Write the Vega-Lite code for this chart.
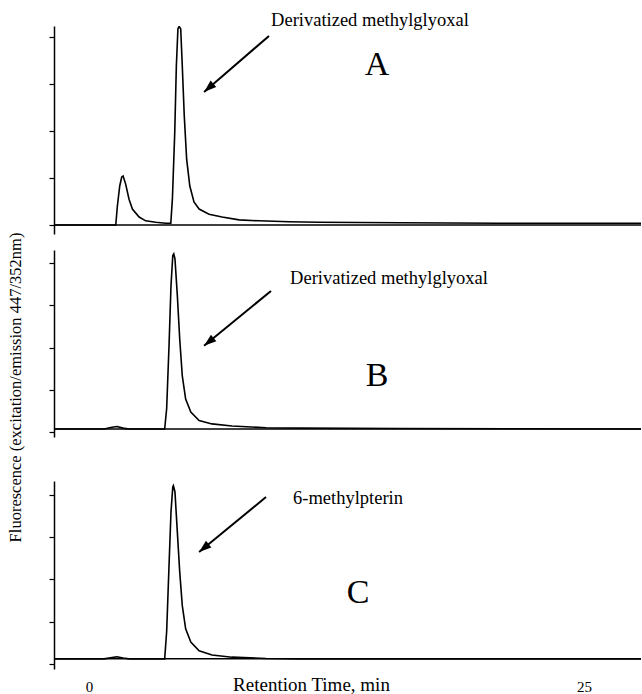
{
  "$schema": "https://vega.github.io/schema/vega-lite/v6.json",
  "background": "white",
  "padding": {"left": 7, "top": 11, "right": 0, "bottom": 0},
  "config": {
    "view": {"stroke": null},
    "axis": {"grid": false, "domainColor": "black", "tickColor": "black", "domainWidth": 1.5, "tickWidth": 1.2, "labelColor": "black", "titleColor": "black", "labelFont": "Liberation Serif", "titleFont": "Liberation Serif", "titleFontWeight": "normal"}
  },
  "datasets": {
    "A": [
      {"t": -1.77, "v": 0}, {"t": 1.35, "v": 0}, {"t": 1.43, "v": 0.4}, {"t": 1.55, "v": 0.83}, {"t": 1.65, "v": 1.02}, {"t": 1.72, "v": 1.04}, {"t": 1.85, "v": 0.87}, {"t": 2.02, "v": 0.55}, {"t": 2.19, "v": 0.34}, {"t": 2.53, "v": 0.17}, {"t": 2.86, "v": 0.09}, {"t": 3.37, "v": 0.06}, {"t": 3.87, "v": 0.04}, {"t": 4.13, "v": 0.04}, {"t": 4.21, "v": 0.55}, {"t": 4.33, "v": 1.98}, {"t": 4.41, "v": 3.38}, {"t": 4.49, "v": 4.17}, {"t": 4.55, "v": 4.22}, {"t": 4.63, "v": 4.17}, {"t": 4.71, "v": 3.38}, {"t": 4.81, "v": 2.32}, {"t": 4.93, "v": 1.4}, {"t": 5.09, "v": 0.83}, {"t": 5.3, "v": 0.49}, {"t": 5.56, "v": 0.34}, {"t": 6.06, "v": 0.23}, {"t": 6.72, "v": 0.17}, {"t": 7.58, "v": 0.11}, {"t": 8.59, "v": 0.09}, {"t": 10.1, "v": 0.07}, {"t": 11.6, "v": 0.06}, {"t": 15.7, "v": 0.05}, {"t": 20.7, "v": 0.04}, {"t": 27.88, "v": 0.04}
    ],
    "B": [
      {"t": -1.77, "v": 0.07}, {"t": 0.76, "v": 0.07}, {"t": 1.16, "v": 0.11}, {"t": 1.41, "v": 0.13}, {"t": 1.72, "v": 0.09}, {"t": 2.02, "v": 0.07}, {"t": 3.82, "v": 0.07}, {"t": 3.92, "v": 0.55}, {"t": 4.04, "v": 2.04}, {"t": 4.14, "v": 3.47}, {"t": 4.23, "v": 4.18}, {"t": 4.28, "v": 4.22}, {"t": 4.34, "v": 4.1}, {"t": 4.46, "v": 3.23}, {"t": 4.58, "v": 2.2}, {"t": 4.71, "v": 1.33}, {"t": 4.88, "v": 0.78}, {"t": 5.14, "v": 0.47}, {"t": 5.56, "v": 0.27}, {"t": 6.21, "v": 0.19}, {"t": 7.22, "v": 0.14}, {"t": 8.94, "v": 0.1}, {"t": 10.6, "v": 0.09}, {"t": 15.7, "v": 0.08}, {"t": 27.88, "v": 0.07}
    ],
    "C": [
      {"t": -1.77, "v": 0.12}, {"t": 0.76, "v": 0.12}, {"t": 1.16, "v": 0.15}, {"t": 1.41, "v": 0.17}, {"t": 1.72, "v": 0.14}, {"t": 2.02, "v": 0.12}, {"t": 3.82, "v": 0.12}, {"t": 3.92, "v": 0.76}, {"t": 4.04, "v": 2.33}, {"t": 4.14, "v": 3.6}, {"t": 4.23, "v": 4.19}, {"t": 4.26, "v": 4.22}, {"t": 4.34, "v": 4.07}, {"t": 4.46, "v": 3.12}, {"t": 4.58, "v": 2.18}, {"t": 4.71, "v": 1.38}, {"t": 4.88, "v": 0.83}, {"t": 5.14, "v": 0.52}, {"t": 5.56, "v": 0.31}, {"t": 6.21, "v": 0.21}, {"t": 7.22, "v": 0.16}, {"t": 8.94, "v": 0.13}, {"t": 10.6, "v": 0.12}, {"t": 27.88, "v": 0.12}
    ],
    "one": [{}]
  },
  "spacing": 16,
  "bounds": "flush",
  "vconcat": [
    {
      "width": 587,
      "height": 208,
      "layer": [
        {
          "data": {"name": "A"},
          "mark": {"type": "line", "color": "black", "strokeWidth": 1.6, "clip": true},
          "encoding": {
            "x": {"field": "t", "type": "quantitative", "scale": {"domain": [-1.77, 27.88], "nice": false, "zero": false}, "axis": null},
            "y": {"field": "v", "type": "quantitative", "scale": {"domain": [-0.19, 4.23], "nice": false, "zero": false}, "axis": {"values": [0, 1, 2, 3, 4], "labels": false, "title": null, "tickSize": 5}}
          }
        },
        {
          "data": {"name": "one"},
          "mark": {"type": "rule", "color": "black", "strokeWidth": 1.5},
          "encoding": {"y": {"datum": 0}}
        },
        {
          "data": {"name": "one"},
          "mark": {"type": "rule", "color": "black", "strokeWidth": 2},
          "encoding": {"x": {"datum": 9.09}, "y": {"datum": 4.02}, "x2": {"datum": 5.81}, "y2": {"datum": 2.83}}
        },
        {
          "data": {"name": "one"},
          "mark": {"type": "point", "shape": "M0,0L0.55,1.6L-0.55,1.6Z", "filled": true, "color": "black", "opacity": 1, "size": 240, "angle": 229},
          "encoding": {"x": {"datum": 5.81}, "y": {"datum": 2.83}}
        },
        {
          "data": {"name": "one"},
          "mark": {"type": "text", "font": "Liberation Serif", "fontSize": 18.5, "align": "center", "baseline": "alphabetic", "color": "black"},
          "encoding": {"x": {"datum": 14.19}, "y": {"datum": 4.23}, "text": {"value": "Derivatized methylglyoxal"}}
        },
        {
          "data": {"name": "one"},
          "mark": {"type": "text", "font": "Liberation Serif", "fontSize": 34, "align": "center", "baseline": "middle", "color": "black"},
          "encoding": {"x": {"datum": 14.55}, "y": {"datum": 3.4}, "text": {"value": "A"}}
        }
      ]
    },
    {
      "width": 587,
      "height": 187,
      "layer": [
        {
          "data": {"name": "B"},
          "mark": {"type": "line", "color": "black", "strokeWidth": 1.6, "clip": true},
          "encoding": {
            "x": {"field": "t", "type": "quantitative", "scale": {"domain": [-1.77, 27.88], "nice": false, "zero": false}, "axis": null},
            "y": {"field": "v", "type": "quantitative", "scale": {"domain": [-0.12, 4.31], "nice": false, "zero": false}, "axis": {"values": [0, 1, 2, 3, 4], "labels": false, "tickSize": 5, "title": "Fluorescence (excitation/emission 447/352nm)", "titleFontSize": 16.5, "titlePadding": 25, "titleY": 137}}
          }
        },
        {
          "data": {"name": "one"},
          "mark": {"type": "rule", "color": "black", "strokeWidth": 1.5},
          "encoding": {"y": {"datum": 0.07}}
        },
        {
          "data": {"name": "one"},
          "mark": {"type": "rule", "color": "black", "strokeWidth": 2},
          "encoding": {"x": {"datum": 9.19}, "y": {"datum": 3.34}, "x2": {"datum": 5.81}, "y2": {"datum": 2.04}}
        },
        {
          "data": {"name": "one"},
          "mark": {"type": "point", "shape": "M0,0L0.55,1.6L-0.55,1.6Z", "filled": true, "color": "black", "opacity": 1, "size": 240, "angle": 230.6},
          "encoding": {"x": {"datum": 5.81}, "y": {"datum": 2.04}}
        },
        {
          "data": {"name": "one"},
          "mark": {"type": "text", "font": "Liberation Serif", "fontSize": 18.5, "align": "center", "baseline": "alphabetic", "color": "black"},
          "encoding": {"x": {"datum": 15.15}, "y": {"datum": 3.51}, "text": {"value": "Derivatized methylglyoxal"}}
        },
        {
          "data": {"name": "one"},
          "mark": {"type": "text", "font": "Liberation Serif", "fontSize": 34, "align": "center", "baseline": "middle", "color": "black"},
          "encoding": {"x": {"datum": 14.55}, "y": {"datum": 1.33}, "text": {"value": "B"}}
        }
      ]
    },
    {
      "width": 587,
      "height": 12,
      "data": {"name": "one"},
      "mark": {"type": "point", "opacity": 0},
      "encoding": {}
    },
    {
      "width": 587,
      "height": 188,
      "layer": [
        {
          "data": {"name": "C"},
          "mark": {"type": "line", "color": "black", "strokeWidth": 1.6, "clip": true},
          "encoding": {
            "x": {"field": "t", "type": "quantitative", "scale": {"domain": [-1.77, 27.88], "nice": false, "zero": false}, "axis": {"values": [0, 25], "domain": false, "ticks": false, "tickSize": 0, "labelPadding": 10, "labelFontSize": 15, "title": "Retention Time, min", "titleFontSize": 19, "titleX": 257, "titleY": 21, "titleBaseline": "alphabetic", "titleAlign": "center"}},
            "y": {"field": "v", "type": "quantitative", "scale": {"domain": [-0.12, 4.33], "nice": false, "zero": false}, "axis": {"values": [0, 1, 2, 3, 4], "labels": false, "title": null, "tickSize": 5}}
          }
        },
        {
          "data": {"name": "one"},
          "mark": {"type": "rule", "color": "black", "strokeWidth": 1.5},
          "encoding": {"y": {"datum": 0.12}}
        },
        {
          "data": {"name": "one"},
          "mark": {"type": "rule", "color": "black", "strokeWidth": 2},
          "encoding": {"x": {"datum": 8.94}, "y": {"datum": 3.95}, "x2": {"datum": 5.56}, "y2": {"datum": 2.65}}
        },
        {
          "data": {"name": "one"},
          "mark": {"type": "point", "shape": "M0,0L0.55,1.6L-0.55,1.6Z", "filled": true, "color": "black", "opacity": 1, "size": 240, "angle": 230.6},
          "encoding": {"x": {"datum": 5.56}, "y": {"datum": 2.65}}
        },
        {
          "data": {"name": "one"},
          "mark": {"type": "text", "font": "Liberation Serif", "fontSize": 18.5, "align": "center", "baseline": "alphabetic", "color": "black"},
          "encoding": {"x": {"datum": 13.08}, "y": {"datum": 3.79}, "text": {"value": "6-methylpterin"}}
        },
        {
          "data": {"name": "one"},
          "mark": {"type": "text", "font": "Liberation Serif", "fontSize": 34, "align": "center", "baseline": "middle", "color": "black"},
          "encoding": {"x": {"datum": 13.59}, "y": {"datum": 1.67}, "text": {"value": "C"}}
        }
      ]
    }
  ]
}
